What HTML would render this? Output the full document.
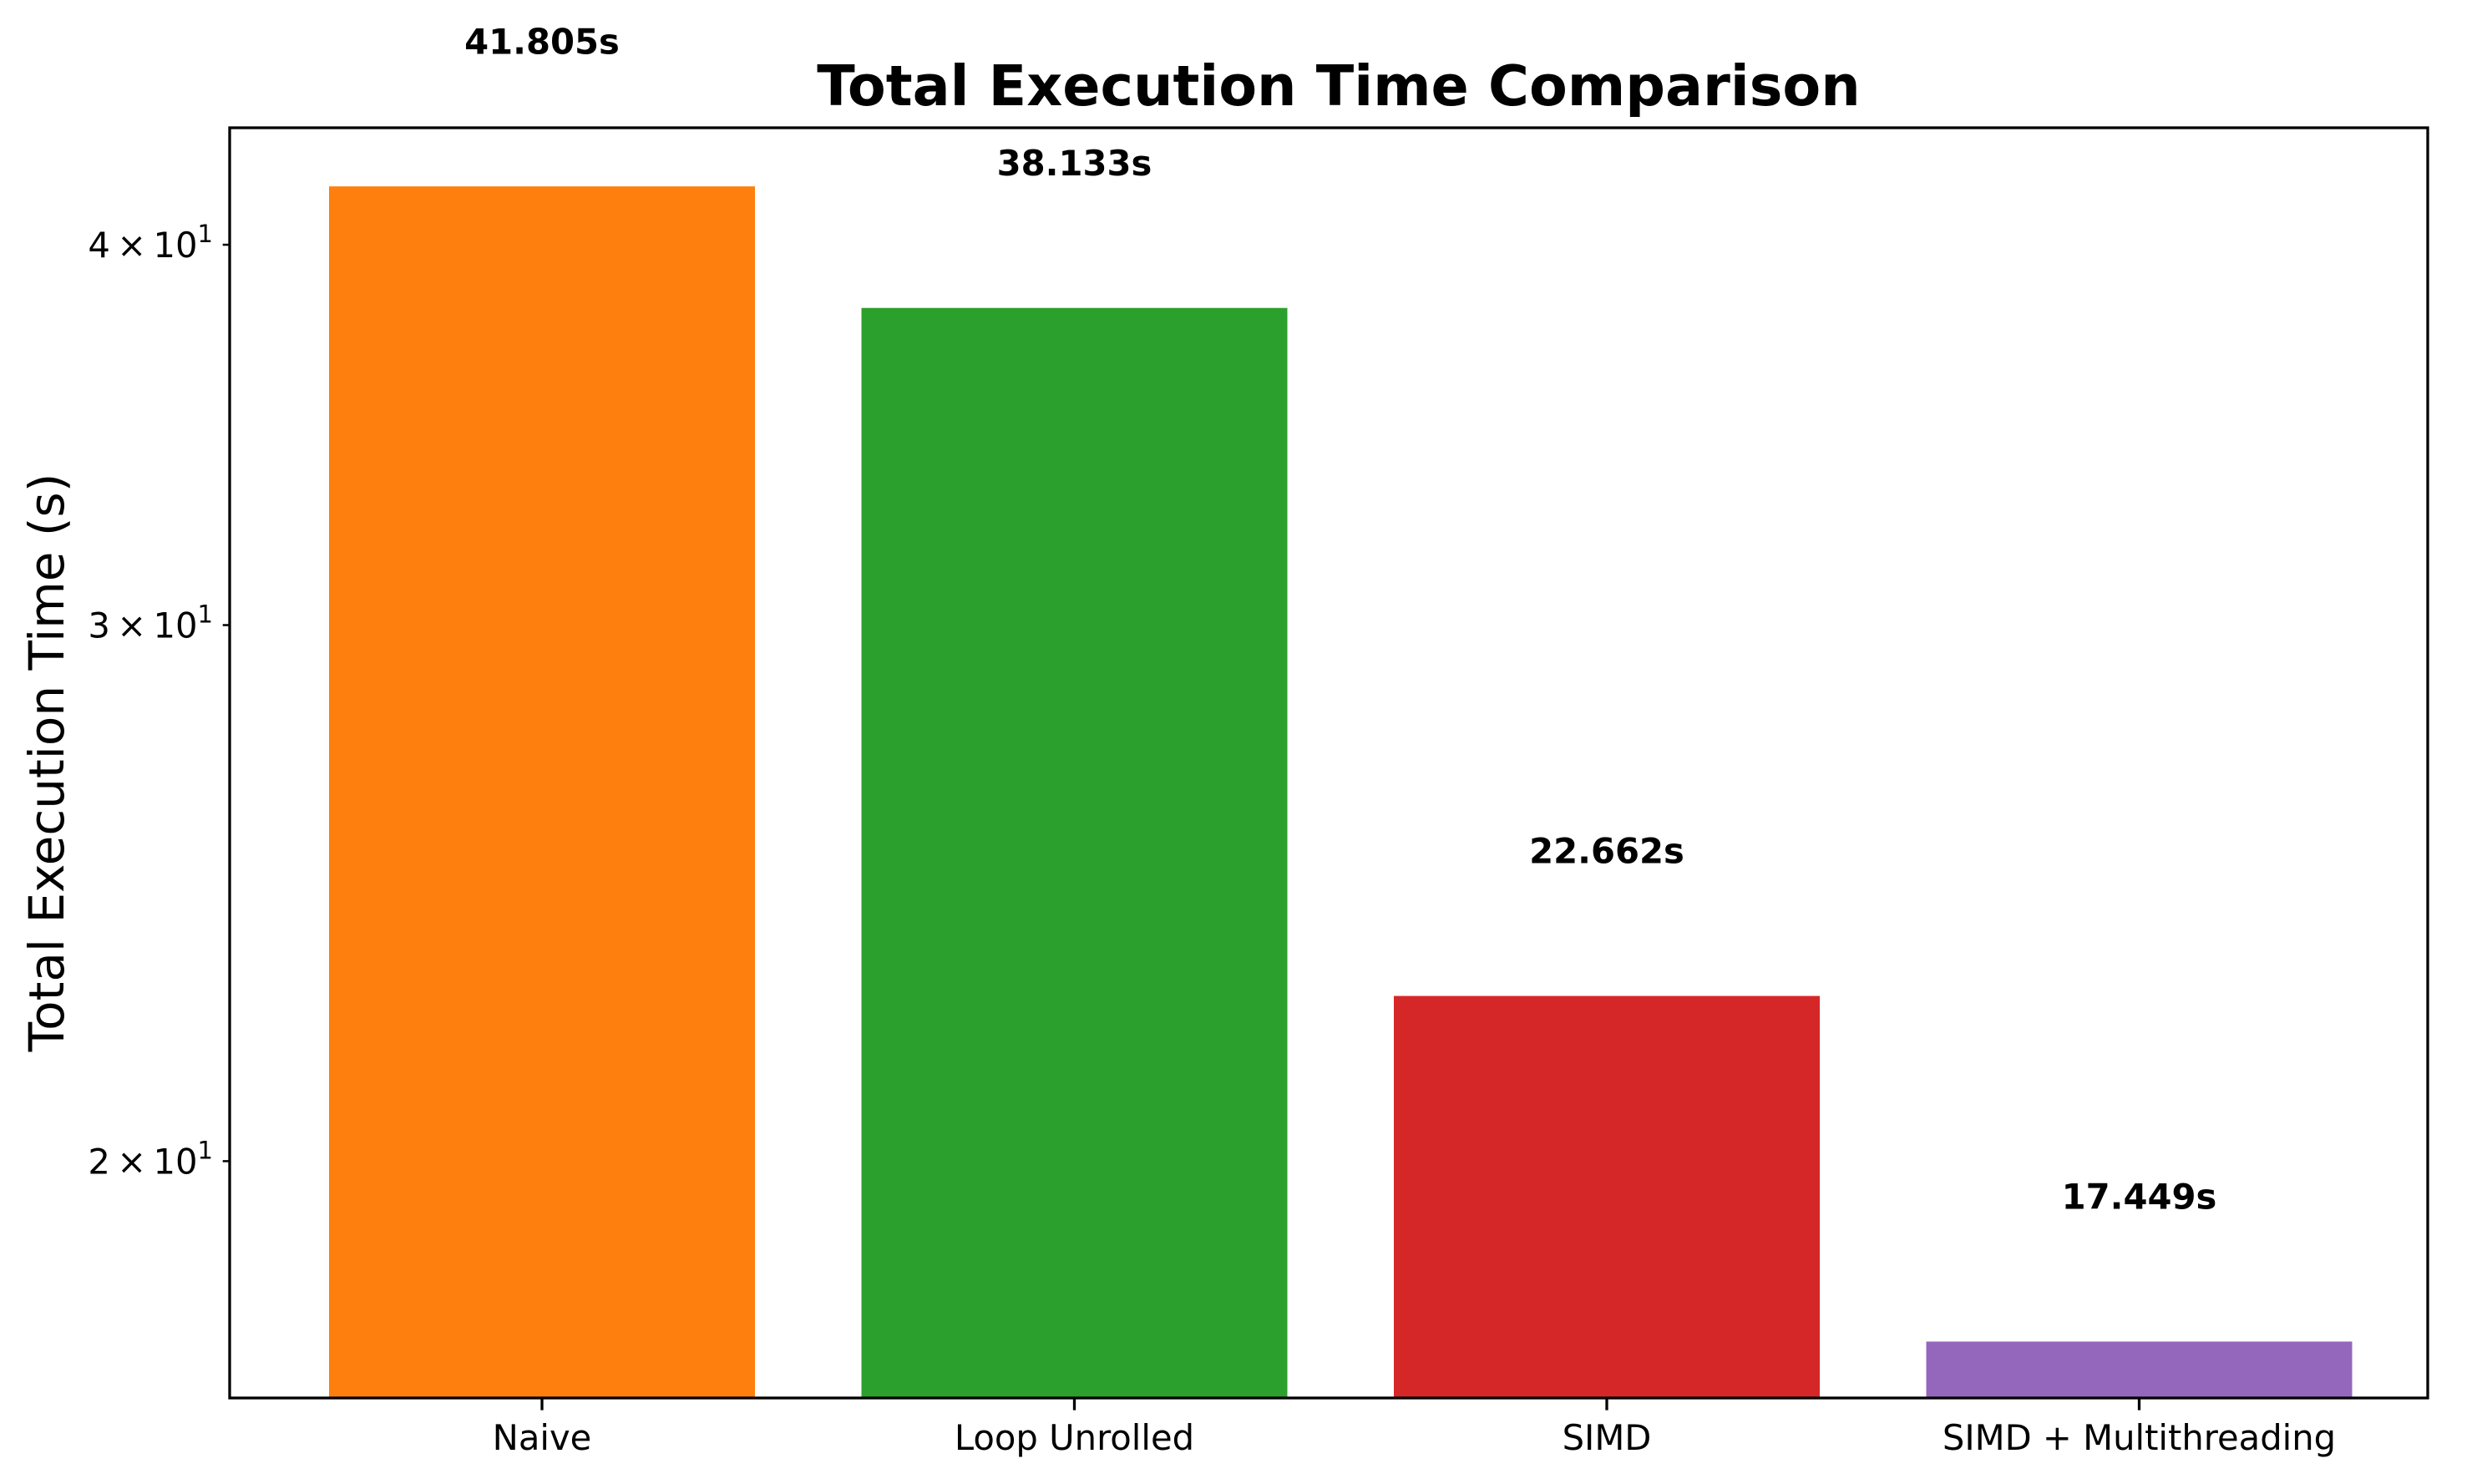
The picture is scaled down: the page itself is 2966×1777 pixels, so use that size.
<!DOCTYPE html>
<html><head><meta charset="utf-8"><style>html,body{margin:0;padding:0;background:#fff}svg{display:block}</style></head>
<body>
<svg id="chart" width="2966" height="1777" viewBox="0 0 2966 1777" xmlns="http://www.w3.org/2000/svg" font-family="DejaVu Sans, Liberation Sans, sans-serif">
<rect width="2966" height="1777" fill="#fff"/>
<text x="1603" y="126" text-anchor="middle" font-size="66.7" font-weight="bold">Total Execution Time Comparison</text>
<text transform="translate(76,913) rotate(-90)" text-anchor="middle" font-size="58">Total Execution Time (s)</text>
<g id="marks"></g>
<rect x="275" y="153" width="2632" height="1521" fill="none" stroke="#000" stroke-width="3.3"/>
</svg>
<script>
const categories = ["Naive", "Loop Unrolled", "SIMD", "SIMD + Multithreading"];
const times = [41.805, 38.133, 22.662, 17.449];
const colors = ["#ff7f0e", "#2ca02c", "#d62728", "#9467bd"];
const yTicks = [20, 30, 40];
const yTickLabels = ["2", "3", "4"];

const L = 275, R = 2907, T = 153, B = 1674;
const yMin = 16.72, yMax = 43.7;
function y(v) { return B - (Math.log10(v) - Math.log10(yMin)) / (Math.log10(yMax) - Math.log10(yMin)) * (B - T); }
const step = 637.5;
function x(i) { return 649 + i * step; }
const bw = 0.8 * step;
const NS = "http://www.w3.org/2000/svg";
const g = document.getElementById("marks");
function mk(tag, attrs) { const e = document.createElementNS(NS, tag); for (const k in attrs) e.setAttribute(k, attrs[k]); g.appendChild(e); return e; }

categories.forEach((c, i) => {
  const bar = mk("rect", {x: x(i) - bw / 2, y: y(times[i]), width: bw, height: B - y(times[i]), fill: colors[i]});
  
  
  const lbl = mk("text", {x: x(i), y: y(times[i] * 1.1) - 8, "text-anchor": "middle", "font-size": 41.7, "font-weight": "bold"});
  lbl.textContent = times[i].toFixed(3) + "s";
  
  
  const tk = mk("line", {x1: x(i), x2: x(i), y1: B, y2: B + 14.6, stroke: "#000", "stroke-width": 3.3});
  
  
  const tl = mk("text", {x: x(i), y: B + 62, "text-anchor": "middle", "font-size": 41.7});
  tl.textContent = c;
  
  
});
yTicks.forEach((v, i) => {
  const tk = mk("line", {x1: L - 8.3, x2: L, y1: y(v), y2: y(v), stroke: "#000", "stroke-width": 2.5});
  
  
  const t = mk("text", {x: L - 20, y: y(v) + 15, "text-anchor": "end", "font-size": 41.7});
  t.innerHTML = yTickLabels[i] + '\u2009\u00d7\u200910<tspan dy="-18" font-size="29">1</tspan>';
  
  
});
</script>
</body></html>
